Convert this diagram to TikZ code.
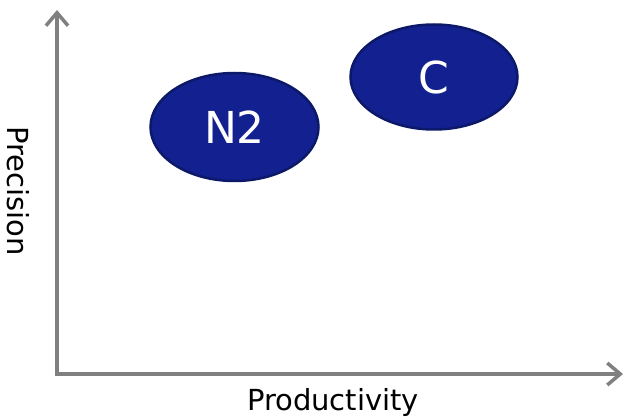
\documentclass[tikz,border=0pt]{standalone}
\usepackage{fontspec}
\setmainfont{DejaVu Sans}
\usetikzlibrary{shapes.geometric,arrows.meta}
\definecolor{axisgray}{HTML}{808080}
\definecolor{blobfill}{HTML}{13208F}
\definecolor{blobedge}{HTML}{0C1868}
\tikzset{
  axis/.style={draw=axisgray, line width=3.5pt, -{Straight Barb[length=13pt,width=22pt,line width=3.5pt]}},
  blob/.style={ellipse, fill=blobfill, draw=blobedge, line width=2.5pt, text=white, inner sep=0pt, font=\fontsize{44}{48}\selectfont},
  axlabel/.style={font=\fontsize{29}{32}\selectfont, text=black, inner sep=0pt}
}
\begin{document}
\begin{tikzpicture}[x=1pt,y=-1pt]
\useasboundingbox (0,0) rectangle (625,417);
\coordinate (O) at (57,374);
\coordinate (Ytop) at (57,10);
\coordinate (Xend) at (623,374);
\draw[axis] (O) -- (Ytop);
\draw[axis] ([xshift=-1.75pt]O) -- (Xend);
\node[blob, minimum width=168pt, minimum height=108pt] (n2) at (234.5,127) {N2};
\node[blob, minimum width=167pt, minimum height=105pt] (c) at (434,77) {C};
\node[axlabel] (xl) at (333,402) {Productivity};
\node[axlabel, rotate=-90] (yl) at (18,191) {Precision};
\end{tikzpicture}
\end{document}
